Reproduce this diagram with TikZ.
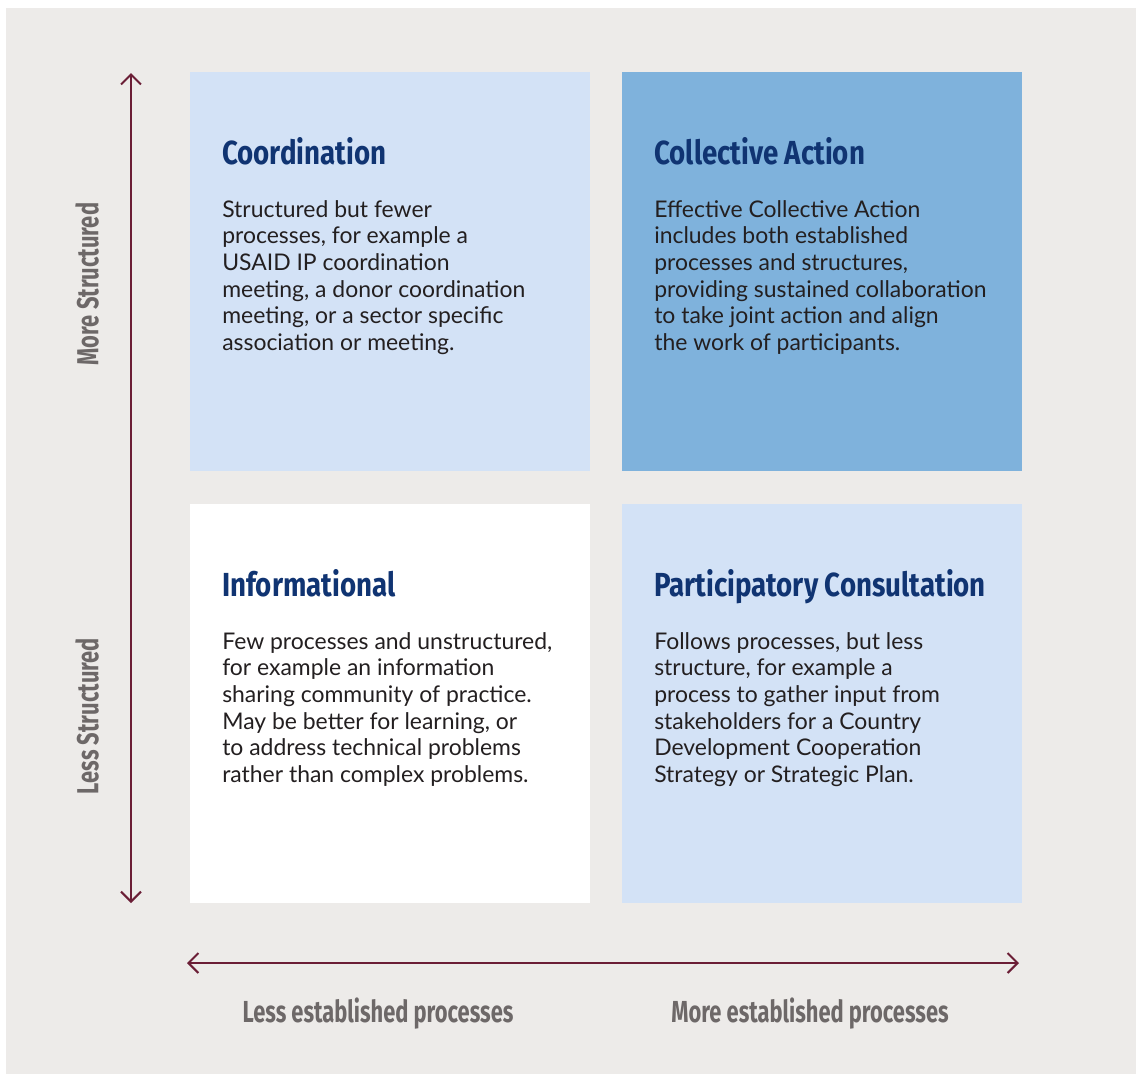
\documentclass[tikz,border=0pt]{standalone}
\usepackage{fontspec}
\setmainfont{Lato}
\newfontfamily\headfont[FakeStretch=0.83]{Fira Sans}
\newfontfamily\axisfont[FakeStretch=0.72]{Fira Sans}
\usetikzlibrary{arrows.meta, positioning}
\definecolor{panelgray}{HTML}{EDEBE9}
\definecolor{paleblue}{HTML}{D3E2F6}
\definecolor{midblue}{HTML}{7FB2DC}
\definecolor{navy}{HTML}{103472}
\definecolor{axisred}{HTML}{6B1E36}
\definecolor{labelgray}{HTML}{6D6868}
\definecolor{bodyink}{HTML}{231F20}
\tikzset{
  quad/.style      = {rectangle, minimum width=300pt, minimum height=299.25pt,
                      inner sep=0pt},
  heading/.style   = {anchor=base west, inner sep=0pt, text=navy,
                      font=\headfont\bfseries\fontsize{25}{30}\selectfont},
  bodytext/.style  = {anchor=north west, inner sep=0pt, align=left, text=bodyink,
                      font=\fontsize{17.2}{20}\selectfont},
  axislabel/.style = {inner sep=0pt, text=labelgray,
                      font=\axisfont\bfseries\fontsize{22.8}{28}\selectfont},
  axis/.style      = {{Straight Barb[length=7.5pt,width=15pt]}-{Straight Barb[length=7.5pt,width=15pt]},
                      line width=1.5pt, draw=axisred},
}
\begin{document}
\begin{tikzpicture}[x=0.75pt, y=-0.75pt]

    \useasboundingbox (0,0) rectangle (1136,1076);
    \fill[panelgray] (6,8) rectangle (1136,1074);

    % the four quadrants
    \node[quad, fill=paleblue] (coord)      at (390,271.5) {};
    \node[quad, fill=midblue]  (collective) at (822,271.5) {};
    \node[quad, fill=white]    (info)       at (390,703.5) {};
    \node[quad, fill=paleblue] (consult)    at (822,703.5) {};

    \node[heading] (coordhead) at (222,164) {Coordination};
    \node[bodytext] (coordtext) at (222,200)
      {Structured but fewer\\
       processes, for example a\\
       USAID IP coordination\\
       meeting, a donor coordination\\
       meeting, or a sector specific\\
       association or meeting.};

    \node[heading] (collhead) at (654,164) {Collective Action};
    \node[bodytext] (colltext) at (654,200)
      {Effective Collective Action\\
       includes both established\\
       processes and structures,\\
       providing sustained collaboration\\
       to take joint action and align\\
       the work of participants.};

    \node[heading] (infohead) at (222,596) {Informational};
    \node[bodytext] (infotext) at (222,632)
      {Few processes and unstructured,\\
       for example an information\\
       sharing community of practice.\\
       May be better for learning, or\\
       to address technical problems\\
       rather than complex problems.};

    \node[heading] (consulthead) at (654,596) {Participatory Consultation};
    \node[bodytext] (consulttext) at (654,632)
      {Follows processes, but less\\
       structure, for example a\\
       process to gather input from\\
       stakeholders for a Country\\
       Development Cooperation\\
       Strategy or Strategic Plan.};

    % axes
    \coordinate (vtop)    at (131,73);
    \coordinate (vbottom) at (131,903);
    \coordinate (hleft)   at (187,963);
    \coordinate (hright)  at (1019,963);
    \draw[axis] (vbottom) -- (vtop);
    \draw[axis] (hleft) -- (hright);

    \node[axislabel, rotate=90] (morestruct) at (87,284) {More Structured};
    \node[axislabel, rotate=90] (lessstruct) at (87,716) {Less Structured};
    \node[axislabel] (lessproc) at (378,1014) {Less established processes};
    \node[axislabel] (moreproc) at (810,1014) {More established processes};

\end{tikzpicture}
\end{document}
